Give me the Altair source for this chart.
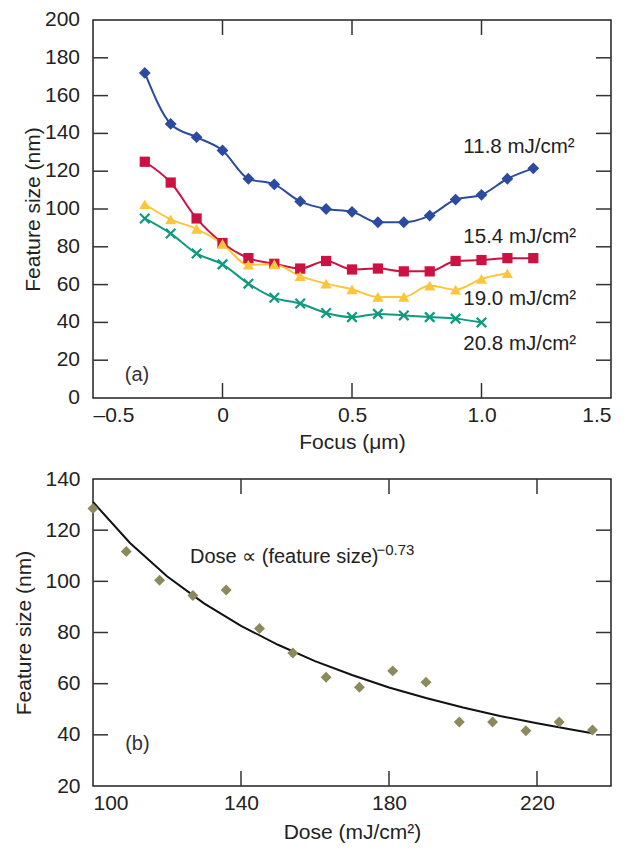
import altair as alt
import pandas as pd

# ---------- panel (a) data ----------
focus = [-0.3, -0.2, -0.1, 0.0, 0.1, 0.2, 0.3, 0.4, 0.5, 0.6, 0.7, 0.8, 0.9, 1.0, 1.1, 1.2]
size_118 = [172, 145, 138, 131, 116, 113, 104, 100, 98.5, 93, 93, 96.5, 105, 107.5, 116, 121.5]
size_154 = [125, 114, 95, 82, 74, 71, 68.5, 72.5, 68, 68.5, 67, 67, 72.5, 73, 74, 74]
size_190 = [102.5, 94.5, 89.5, 81.5, 70.5, 70.7, 64.5, 60.5, 57.5, 53.5, 53.5, 59.5, 57.3, 63, 66]
size_208 = [95, 87, 76.5, 70.7, 60.5, 53, 50, 45, 42.8, 44.5, 43.7, 42.8, 42, 40]

series_names = ["11.8 mJ/cm²", "15.4 mJ/cm²", "19.0 mJ/cm²", "20.8 mJ/cm²"]
series_colors = ["#2b4b9e", "#cc1242", "#fcc63a", "#0f9a80"]
label_x = [0.93, 0.93, 0.93, 0.93]
label_y = [133, 85, 52.5, 28.5]

a_xlabels = [-0.5, 0.0, 0.5, 1.0, 1.5]
a_ylabels = [0, 20, 40, 60, 80, 100, 120, 140, 160, 180, 200]
a_xticks = [0.0, 0.5, 1.0]
a_yticks = [20, 40, 60, 80, 100, 120, 140, 160, 180]

# ---------- panel (b) data ----------
dose = [100, 109, 118, 127, 136, 145, 154, 163, 172, 181, 190, 199, 208, 217, 226, 235]
fsize = [128.5, 111.7, 100.4, 94.5, 96.6, 81.6, 72, 62.5, 58.6, 65, 60.6, 45, 45, 41.6, 45, 41.9]
fit_dose = [100, 110, 120, 130, 140, 150, 160, 170, 180, 190, 200, 210, 220, 230, 235]
fit_size = [131, 115, 102, 91.4, 82.6, 75.2, 68.8, 63.4, 58.5, 54.4, 50.7, 47.4, 44.5, 41.9, 40.6]

b_xlabels = [100, 140, 180, 220]
b_ylabels = [20, 40, 60, 80, 100, 120, 140]
b_xticks = [140, 180, 220]
b_yticks = [40, 60, 80, 100, 120]

FONT = "Liberation Sans"
NARROW = "Liberation Sans Narrow, Liberation Sans"
W = 518
HA = 378
HB = 307
TICK = 15
TICK_COLOR = "#333333"
LABEL_PAD = 13

# ---------- panel (a) ----------
rows = []
for name, ys in zip(series_names, [size_118, size_154, size_190, size_208]):
    for f, s in zip(focus, ys):
        rows.append({"focus": f, "size": s, "series": name})
dfa = pd.DataFrame(rows)

xa = alt.X("focus:Q", scale=alt.Scale(domain=[-0.5, 1.5], nice=False, zero=False),
           axis=alt.Axis(values=a_xlabels, ticks=False, domain=False, grid=False, labelOverlap=False,
                         labelExpr="datum.value == 0 ? '0' : replace(replace(format(datum.value, '.1f'), '−', '–'), '-', '–')",
                         title="Focus (μm)", labelPadding=6, titlePadding=6))
ya = alt.Y("size:Q", scale=alt.Scale(domain=[0, 200], nice=False),
           axis=alt.Axis(values=a_ylabels, ticks=False, domain=False, grid=False, labels=False,
                         title="Feature size (nm)", titlePadding=LABEL_PAD + 29 + 8))
color_a = alt.Color("series:N", scale=alt.Scale(domain=series_names, range=series_colors), legend=None)

lines_a = alt.Chart(dfa).mark_line(interpolate="monotone", strokeWidth=2).encode(
    x=xa, y=ya, color=color_a, detail="series:N")

# y tick labels of panel (a), drawn as text beside the frame
ylab_a = alt.Chart(pd.DataFrame({"size": a_ylabels, "t": [str(v) for v in a_ylabels]})).mark_text(
    align="right", baseline="middle", font=NARROW, fontSize=21, color="#222").encode(
    y="size:Q", x=alt.value(-LABEL_PAD), text="t:N")

shape_map = {
    series_names[0]: "diamond",
    series_names[1]: "square",
    series_names[2]: "triangle-up",
}
pts = []
for i, name in enumerate(series_names[:3]):
    sub = dfa[dfa.series == name]
    pts.append(alt.Chart(sub).mark_point(shape=shape_map[name], filled=True, opacity=1,
                                         size=[140, 105, 125][i], color=series_colors[i]).encode(
        x="focus:Q", y="size:Q"))
sub = dfa[dfa.series == series_names[3]]
pts.append(alt.Chart(sub).mark_point(shape="M-1,-1L1,1M-1,1L1,-1", filled=False, opacity=1,
                                     size=90, strokeWidth=2.2, color=series_colors[3]).encode(
    x="focus:Q", y="size:Q"))

labels_a = alt.Chart(pd.DataFrame({"focus": label_x, "size": label_y, "t": series_names})).mark_text(
    align="left", baseline="middle", font=FONT, fontSize=20.5, color="#222").encode(
    x="focus:Q", y="size:Q", text="t:N")
tag_a = alt.Chart(pd.DataFrame({"focus": [-0.33], "size": [12], "t": ["(a)"]})).mark_text(
    align="center", baseline="middle", font=FONT, fontSize=20, color="#333").encode(
    x="focus:Q", y="size:Q", text="t:N")

df_ay = pd.DataFrame({"size": a_yticks})
df_ax = pd.DataFrame({"focus": a_xticks})
tk = dict(color=TICK_COLOR, strokeWidth=1.5)
ta_l = alt.Chart(df_ay).mark_rule(**tk).encode(y="size:Q", x=alt.value(0), x2=alt.value(TICK))
ta_r = alt.Chart(df_ay).mark_rule(**tk).encode(y="size:Q", x=alt.value(W - TICK), x2=alt.value(W))
ta_b = alt.Chart(df_ax).mark_rule(**tk).encode(x="focus:Q", y=alt.value(HA - TICK), y2=alt.value(HA))
ta_t = alt.Chart(df_ax).mark_rule(**tk).encode(x="focus:Q", y=alt.value(0), y2=alt.value(TICK))

panel_a = alt.layer(lines_a, ta_l, ta_r, ta_b, ta_t, *pts, labels_a, tag_a, ylab_a).properties(width=W, height=HA)

# ---------- panel (b) ----------
dfb = pd.DataFrame({"dose": dose, "size": fsize})
dff = pd.DataFrame({"dose": fit_dose, "size": fit_size})

xb = alt.X("dose:Q", scale=alt.Scale(domain=[100, 240], nice=False, zero=False),
           axis=alt.Axis(values=b_xlabels, ticks=False, domain=False, grid=False, labelOverlap=False,
                         title="Dose (mJ/cm²)", labelPadding=6, titlePadding=8))
yb = alt.Y("size:Q", scale=alt.Scale(domain=[20, 140], nice=False, zero=False),
           axis=alt.Axis(values=b_ylabels, ticks=False, domain=False, grid=False, labelOverlap=False,
                         title="Feature size (nm)", labelPadding=LABEL_PAD, titlePadding=10))

fit_line = alt.Chart(dff).mark_line(color="#111", strokeWidth=2).encode(x=xb, y=yb)
pts_b = alt.Chart(dfb).mark_point(shape="diamond", filled=True, opacity=1, size=120,
                                  color="#8b8a5c").encode(x="dose:Q", y="size:Q")
ann_b = alt.Chart(pd.DataFrame({"dose": [126.2], "size": [109.5], "t": ["Dose ∝ (feature size)"]})).mark_text(
    align="left", baseline="middle", font=FONT, fontSize=20, color="#222").encode(
    x="dose:Q", y="size:Q", text="t:N")
sup_b = alt.Chart(pd.DataFrame({"dose": [176.6], "size": [112.3], "t": ["−0.73"]})).mark_text(
    align="left", baseline="middle", font=FONT, fontSize=15, color="#222").encode(
    x="dose:Q", y="size:Q", text="t:N")
tag_b = alt.Chart(pd.DataFrame({"dose": [112], "size": [36.5], "t": ["(b)"]})).mark_text(
    align="center", baseline="middle", font=FONT, fontSize=20, color="#333").encode(
    x="dose:Q", y="size:Q", text="t:N")

df_by = pd.DataFrame({"size": b_yticks})
df_bx = pd.DataFrame({"dose": b_xticks})
tb_l = alt.Chart(df_by).mark_rule(**tk).encode(y="size:Q", x=alt.value(0), x2=alt.value(TICK))
tb_r = alt.Chart(df_by).mark_rule(**tk).encode(y="size:Q", x=alt.value(W - TICK), x2=alt.value(W))
tb_b = alt.Chart(df_bx).mark_rule(**tk).encode(x="dose:Q", y=alt.value(HB - TICK), y2=alt.value(HB))
tb_t = alt.Chart(df_bx).mark_rule(**tk).encode(x="dose:Q", y=alt.value(0), y2=alt.value(TICK))

panel_b = alt.layer(fit_line, tb_l, tb_r, tb_b, tb_t, pts_b, ann_b, sup_b, tag_b).properties(width=W, height=HB)

chart = alt.vconcat(panel_a, panel_b, spacing=14).configure_view(
    stroke="#222", strokeWidth=1.5
).configure_axis(
    labelFont=NARROW, titleFont=FONT, labelFontSize=21, titleFontSize=21,
    labelColor="#222", titleColor="#222", titleFontWeight="normal", labelOverlap=False
).properties(padding={"left": 5, "top": 0, "right": 5, "bottom": 5})

chart.save("out.html", embed_options={"renderer": "svg", "actions": False})
